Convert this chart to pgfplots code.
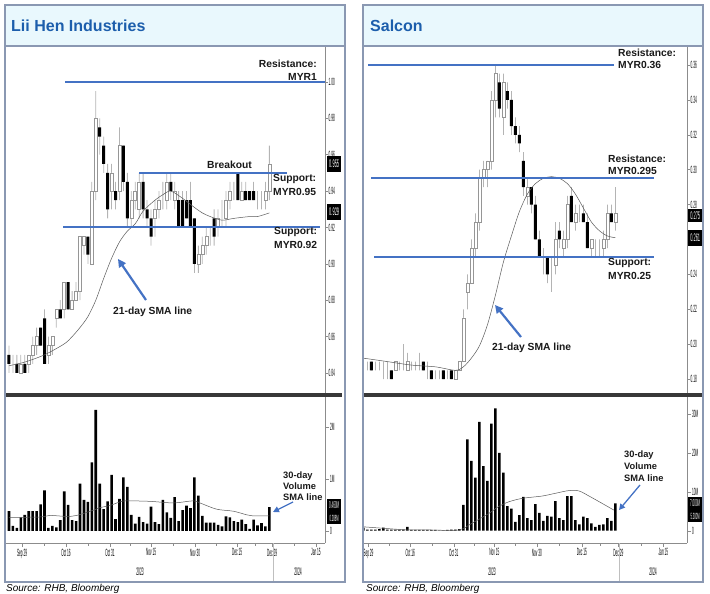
\documentclass[border=0pt]{standalone}
\usepackage{graphicx}
\usepackage{pgfplots}
\pgfplotsset{compat=1.18}
\usepackage{pgfplotstable}
\usepackage{fontspec}
\setmainfont{Liberation Sans}
\usetikzlibrary{arrows.meta}
\definecolor{lineblue}{RGB}{68,114,196}
\definecolor{titleblue}{RGB}{28,94,172}
\definecolor{barfill}{RGB}{233,248,253}
\definecolor{framec}{RGB}{138,152,178}
\definecolor{wickc}{RGB}{180,180,180}
\definecolor{upedge}{RGB}{150,150,150}
\newcommand{\sq}[2][10.5]{\scalebox{0.3}[1]{\fontsize{#1}{#1}\selectfont #2}}

\pgfplotstableread{
i o h l c
1 0.850 0.855 0.840 0.845
2 0.845 0.850 0.840 0.845
3 0.845 0.850 0.840 0.840
4 0.840 0.850 0.840 0.845
5 0.845 0.850 0.840 0.840
6 0.845 0.850 0.840 0.850
7 0.850 0.860 0.845 0.855
8 0.855 0.865 0.850 0.860
9 0.865 0.865 0.855 0.855
10 0.870 0.875 0.845 0.845
11 0.850 0.860 0.845 0.855
12 0.855 0.860 0.850 0.860
13 0.870 0.875 0.865 0.875
14 0.875 0.880 0.870 0.870
15 0.875 0.890 0.870 0.890
16 0.890 0.890 0.875 0.875
17 0.875 0.885 0.875 0.880
18 0.880 0.890 0.880 0.885
19 0.885 0.915 0.880 0.915
20 0.910 0.915 0.905 0.915
21 0.915 0.915 0.900 0.905
22 0.900 0.945 0.900 0.940
23 0.940 0.995 0.935 0.980
24 0.975 0.980 0.960 0.970
25 0.965 0.970 0.950 0.955
26 0.950 0.955 0.925 0.930
27 0.940 0.955 0.930 0.950
28 0.940 0.945 0.930 0.935
29 0.940 0.975 0.935 0.965
30 0.965 0.965 0.940 0.945
31 0.945 0.950 0.920 0.925
32 0.925 0.940 0.920 0.935
33 0.935 0.945 0.930 0.940
34 0.930 0.950 0.925 0.945
35 0.945 0.950 0.925 0.930
36 0.930 0.935 0.920 0.925
37 0.925 0.930 0.910 0.915
38 0.925 0.935 0.915 0.930
39 0.930 0.940 0.925 0.935
40 0.935 0.945 0.930 0.935
41 0.935 0.950 0.930 0.945
42 0.945 0.950 0.935 0.940
43 0.935 0.945 0.930 0.940
44 0.935 0.940 0.920 0.920
45 0.935 0.940 0.920 0.920
46 0.935 0.940 0.925 0.925
47 0.935 0.945 0.920 0.920
48 0.925 0.925 0.895 0.900
49 0.900 0.910 0.895 0.905
50 0.905 0.915 0.900 0.910
51 0.910 0.920 0.905 0.915
52 0.915 0.920 0.910 0.915
53 0.925 0.930 0.910 0.915
54 0.920 0.930 0.915 0.925
55 0.925 0.935 0.920 0.925
56 0.925 0.940 0.920 0.935
57 0.935 0.945 0.930 0.940
58 0.940 0.945 0.935 0.940
59 0.950 0.950 0.935 0.935
60 0.935 0.945 0.935 0.940
61 0.940 0.945 0.935 0.935
62 0.940 0.940 0.935 0.935
63 0.940 0.945 0.935 0.935
64 0.935 0.940 0.930 0.935
65 0.935 0.940 0.930 0.935
66 0.935 0.945 0.930 0.940
67 0.940 0.965 0.935 0.955
}\liihen

\pgfplotstableread{
i v
1 0.38
2 0.10
3 0.06
4 0.26
5 0.31
6 0.38
7 0.38
8 0.38
9 0.51
10 0.78
11 0.06
12 0.10
13 0.07
14 0.21
15 0.76
16 0.50
17 0.21
18 0.19
19 0.91
20 0.60
21 0.56
22 1.32
23 2.33
24 0.91
25 0.42
26 0.57
27 1.08
28 0.23
29 0.62
30 1.03
31 0.85
32 0.31
33 0.14
34 0.27
35 0.17
36 0.14
37 0.47
38 0.17
39 0.13
40 0.60
41 0.36
42 0.25
43 0.65
44 0.19
45 0.40
46 0.49
47 0.44
48 1.03
49 0.68
50 0.29
51 0.16
52 0.16
53 0.16
54 0.12
55 0.09
56 0.28
57 0.26
58 0.19
59 0.17
60 0.22
61 0.13
62 0.04
63 0.22
64 0.11
65 0.15
66 0.09
67 0.46
}\lhvol

\pgfplotstableread{
i o h l c
4 0.190 0.195 0.185 0.190
5 0.190 0.190 0.185 0.190
6 0.190 0.190 0.185 0.185
7 0.185 0.190 0.185 0.185
8 0.185 0.190 0.185 0.185
9 0.185 0.190 0.180 0.185
10 0.185 0.190 0.180 0.185
11 0.185 0.185 0.180 0.180
12 0.185 0.190 0.185 0.190
13 0.190 0.190 0.185 0.190
14 0.190 0.200 0.185 0.190
15 0.185 0.195 0.185 0.190
16 0.190 0.190 0.185 0.190
17 0.190 0.190 0.185 0.190
18 0.190 0.195 0.185 0.190
19 0.190 0.190 0.185 0.185
20 0.185 0.190 0.180 0.185
21 0.185 0.185 0.180 0.180
22 0.185 0.185 0.180 0.185
23 0.185 0.185 0.180 0.185
24 0.185 0.185 0.180 0.180
25 0.185 0.185 0.180 0.185
26 0.185 0.185 0.180 0.180
27 0.180 0.185 0.180 0.185
28 0.185 0.190 0.185 0.190
29 0.190 0.220 0.190 0.215
30 0.230 0.240 0.220 0.235
31 0.235 0.260 0.235 0.255
32 0.255 0.275 0.250 0.270
33 0.270 0.300 0.265 0.295
34 0.295 0.305 0.290 0.300
35 0.300 0.305 0.290 0.305
36 0.305 0.345 0.300 0.340
37 0.340 0.360 0.330 0.355
38 0.350 0.355 0.330 0.335
39 0.330 0.355 0.320 0.350
40 0.345 0.350 0.335 0.340
41 0.340 0.345 0.320 0.325
42 0.325 0.330 0.315 0.320
43 0.320 0.325 0.310 0.315
44 0.305 0.310 0.285 0.290
45 0.285 0.295 0.280 0.290
46 0.290 0.290 0.275 0.280
47 0.280 0.285 0.260 0.260
48 0.260 0.265 0.250 0.250
49 0.250 0.255 0.240 0.250
50 0.250 0.250 0.235 0.240
51 0.240 0.250 0.230 0.240
52 0.245 0.270 0.240 0.260
53 0.265 0.270 0.255 0.260
54 0.255 0.265 0.250 0.260
55 0.260 0.285 0.255 0.280
56 0.285 0.290 0.270 0.270
57 0.270 0.280 0.265 0.275
58 0.275 0.280 0.270 0.275
59 0.275 0.280 0.270 0.270
60 0.270 0.275 0.255 0.255
61 0.255 0.260 0.250 0.260
62 0.255 0.260 0.250 0.255
63 0.255 0.260 0.250 0.255
64 0.255 0.265 0.250 0.260
65 0.260 0.280 0.255 0.275
66 0.275 0.280 0.270 0.270
67 0.270 0.290 0.265 0.275
}\salcon

\pgfplotstableread{
i v
4 0.8
5 0.3
6 0.3
7 0.3
8 0.4
9 0.8
10 0.3
11 0.3
12 0.3
13 0.3
14 0.3
15 1.0
16 0.2
17 0.2
18 0.2
19 0.2
20 0.2
21 0.2
22 0.2
23 0.1
24 0.1
25 0.2
26 0.3
27 0.3
28 0.4
29 6.6
30 23.4
31 17.9
32 13.6
33 27.9
34 16.6
35 12.8
36 27.5
37 31.4
38 20.0
39 14.9
40 6.3
41 5.7
42 2.3
43 4.0
44 8.7
45 3.2
46 2.7
47 6.8
48 4.6
49 2.5
50 3.8
51 3.6
52 7.6
53 3.2
54 2.7
55 8.9
56 8.9
57 2.7
58 1.6
59 3.6
60 3.2
61 1.9
62 1.0
63 1.5
64 1.6
65 3.2
66 2.5
67 7.0
}\savol

\pgfplotsset{
  lhgeo/.style={scale only axis, width=319pt, xmin=0.24, xmax=81.1},
  sageo/.style={scale only axis, width=324pt, xmin=3.9, xmax=84.9},
  lhp/.style={lhgeo, at={(6pt,-393pt)}, anchor=south west, height=346pt, ymin=0.829, ymax=1.0192},
  sap/.style={sageo, at={(363pt,-393pt)}, anchor=south west, height=346pt, ymin=0.172, ymax=0.3703},
  wickax/.style={hide axis, ybar stacked, bar width=0.8pt},
  bodyax/.style={hide axis, ybar stacked, bar width=3pt},
  rightax/.style={axis x line=none, axis y line*=right,
    axis line style={draw=black!45, line width=0.4pt},
    tick style={draw=black!45, line width=0.4pt}, tick align=outside,
    major tick length=2.5pt, yticklabel style={inner sep=1pt}},
  volax/.style={axis x line*=bottom, axis y line*=right,
    axis line style={draw=black!45, line width=0.4pt},
    tick style={draw=black!45, line width=0.4pt}, tick align=outside,
    major tick length=4pt, minor tick length=2.5pt,
    yticklabel style={inner sep=1pt}, xticklabel style={inner sep=1.5pt},
    height=146pt},
  sma/.style={draw=black!65, line width=0.5pt, smooth, mark=none},
  lvl/.style={draw=lineblue, line width=2pt, mark=none},
}

\begin{document}
\begin{tikzpicture}
\path[use as bounding box] (0,0) rectangle (710pt,-594pt);
% title bars
\fill[barfill] (5pt,-5pt) rectangle (345pt,-46pt);
\fill[barfill] (363pt,-5pt) rectangle (703pt,-46pt);

%================ LII HEN =================
\begin{axis}[lhp, wickax]
\addplot[draw=none, fill=none] table[x=i, y=l] {\liihen};
\addplot[fill=wickc, draw=none] table[x=i, y expr={\thisrow{h}-\thisrow{l}}] {\liihen};
\end{axis}
\begin{axis}[lhp, bodyax]
\addplot[draw=none, fill=none] table[x=i, y expr={min(\thisrow{o},\thisrow{c})}] {\liihen};
\addplot[fill=black, draw=none] table[x=i, y expr={max(\thisrow{o}-\thisrow{c},0)}] {\liihen};
\addplot[fill=white, draw=upedge, line width=0.5pt] table[x=i, y expr={max(\thisrow{c}-\thisrow{o},0)}] {\liihen};
\end{axis}
\begin{axis}[lhp, rightax,
  ytick={0.84,0.86,0.88,0.90,0.92,0.94,0.96,0.98,1.00},
  yticklabels={\sq{0.84},\sq{0.86},\sq{0.88},\sq{0.90},\sq{0.92},\sq{0.94},\sq{0.96},\sq{0.98},\sq{1.00}}]
\addplot[sma] coordinates {(1,0.844)(5,0.846)(10,0.850)(15,0.856)(17,0.860)(19,0.865)(21,0.871)(23,0.880)(25,0.892)(27,0.903)(29,0.912)(31,0.918)(33,0.922)(35,0.929)(38,0.935)(40,0.938)(42,0.940)(45,0.936)(48,0.931)(50,0.928)(52,0.926)(55,0.924)(58,0.925)(62,0.926)(64,0.926)(67,0.928)};
\addplot[lvl] coordinates {(15.2,1.00)(81.1,1.00)};
\addplot[lvl] coordinates {(34.0,0.95)(71.5,0.95)};
\addplot[lvl] coordinates {(14.7,0.92)(79.9,0.92)};
\end{axis}
\begin{axis}[lhgeo, volax, at={(6pt,-543pt)}, anchor=south west,
  ymin=-0.231, ymax=2.577, ytick={0,1,2}, yticklabels={\sq{0},\sq{1M},\sq{2M}},
  xtick={4.3,15.45,26.6,37.0,48.2,58.8,67.7,78.8},
  minor xtick={9.9,21,31.8,42.6,53.5,63.3,73.2},
  xticklabels={\sq{Sep 29},\sq{Oct 16},\sq{Oct 31},\sq{Nov 15},\sq{Nov 30},\sq{Dec 15},\sq{Dec 29},\sq{Jan 15}}]
\addplot[ybar, bar width=2.6pt, fill=black, draw=none] table[x=i, y=v] {\lhvol};
\addplot[sma] coordinates {(1,0.26)(9,0.27)(11.4,0.30)(15.6,0.28)(18.2,0.30)(22.4,0.40)(24.1,0.45)(26.6,0.49)(29.1,0.56)(30.8,0.58)(36.8,0.57)(42.7,0.54)(47.7,0.58)(49.4,0.54)(53.6,0.42)(57.9,0.38)(61.3,0.31)(62.9,0.29)(67,0.29)};
\end{axis}

%================ SALCON =================
\begin{axis}[sap, wickax]
\addplot[draw=none, fill=none] table[x=i, y=l] {\salcon};
\addplot[fill=wickc, draw=none] table[x=i, y expr={\thisrow{h}-\thisrow{l}}] {\salcon};
\end{axis}
\begin{axis}[sap, bodyax]
\addplot[draw=none, fill=none] table[x=i, y expr={min(\thisrow{o},\thisrow{c})}] {\salcon};
\addplot[fill=black, draw=none] table[x=i, y expr={max(\thisrow{o}-\thisrow{c},0)}] {\salcon};
\addplot[fill=white, draw=upedge, line width=0.5pt] table[x=i, y expr={max(\thisrow{c}-\thisrow{o},0)}] {\salcon};
\end{axis}
\begin{axis}[sap, rightax,
  ytick={0.18,0.20,0.22,0.24,0.28,0.30,0.32,0.34,0.36},
  yticklabels={\sq{0.18},\sq{0.20},\sq{0.22},\sq{0.24},\sq{0.28},\sq{0.30},\sq{0.32},\sq{0.34},\sq{0.36}},
  extra y ticks={0.26}, extra y tick labels={}]
\addplot[sma] coordinates {(3.9,0.192)(10,0.190)(16,0.188)(22,0.187)(27,0.185)(29,0.187)(31,0.192)(33,0.199)(35,0.211)(37,0.228)(39,0.247)(41,0.262)(43,0.276)(45,0.286)(47,0.292)(49,0.295)(51,0.296)(53,0.295)(55,0.292)(57,0.286)(59,0.278)(61,0.270)(63,0.265)(65,0.262)(67,0.261)};
\addplot[lvl] coordinates {(5.2,0.36)(66.7,0.36)};
\addplot[lvl] coordinates {(5.9,0.295)(76.7,0.295)};
\addplot[lvl] coordinates {(6.7,0.25)(76.7,0.25)};
\end{axis}
\begin{axis}[sageo, volax, at={(363pt,-543pt)}, anchor=south west,
  ymin=-3.15, ymax=34.3, ytick={0,10,20,30}, yticklabels={\sq{0},\sq{10M},\sq{20M},\sq{30M}},
  xtick={5.25,15.7,26.6,36.75,47.35,58.6,67.75,79},
  minor xtick={10.5,21.2,31.7,42,53,63.2,73.4},
  xticklabels={\sq{Sep 29},\sq{Oct 16},\sq{Oct 31},\sq{Nov 15},\sq{Nov 30},\sq{Dec 15},\sq{Dec 29},\sq{Jan 15}}]
\addplot[ybar, bar width=2.6pt, fill=black, draw=none] table[x=i, y=v] {\savol};
\addplot[sma] coordinates {(4,1.0)(8,0.7)(14.4,0.25)(20,0.2)(27.8,0.2)(31.1,1.9)(35.3,4.4)(37.8,6.2)(40.3,7.4)(43.7,8.3)(48.7,8.9)(52,9.6)(55.4,10.3)(57.9,10.2)(60.4,8.9)(63.7,7.0)(66.6,5.3)};
\end{axis}

%================ annotations =================
\begin{scope}[x=1pt,y=-1pt]
% separators
\fill[black!78] (6,393) rectangle (342,397.3);
\fill[black!78] (363,393) rectangle (702,397.3);
\draw[black!25, line width=0.6pt] (273,543) -- (273,581);
\draw[black!25, line width=0.6pt] (619,543) -- (619,581);
\node at (140,572) {\sq[11]{2023}};
\node at (298,572) {\sq[11]{2024}};
\node at (492,572) {\sq[11]{2023}};
\node at (653,572) {\sq[11]{2024}};
% titles
\node[anchor=west, inner sep=0, text=titleblue, font=\fontsize{16}{18}\selectfont\bfseries] at (11,26) {Lii Hen Industries};
\node[anchor=west, inner sep=0, text=titleblue, font=\fontsize{16}{18}\selectfont\bfseries] at (370,26) {Salcon};
% value boxes
\begin{scope}[every node/.style={fill=black, text=white, inner sep=1pt, minimum height=16pt, minimum width=14pt, anchor=west}]
\node at (327,164) {\scalebox{0.36}[1]{\fontsize{11}{11}\selectfont 0.955}};
\node at (327,212) {\scalebox{0.36}[1]{\fontsize{11}{11}\selectfont 0.929}};
\node[minimum height=13pt] at (327,505) {\scalebox{0.3}[1]{\fontsize{10}{10}\selectfont 0.460M}};
\node[minimum height=12pt] at (327,518) {\scalebox{0.3}[1]{\fontsize{9}{9}\selectfont 0.288M}};
\node[minimum height=13pt] at (688,215.5) {\scalebox{0.36}[1]{\fontsize{11}{11}\selectfont 0.275}};
\node at (688,238) {\scalebox{0.36}[1]{\fontsize{11}{11}\selectfont 0.261}};
\node[minimum height=13pt] at (688,503) {\scalebox{0.3}[1]{\fontsize{10}{10}\selectfont 7.000M}};
\node[minimum height=12pt] at (688,516) {\scalebox{0.3}[1]{\fontsize{9}{9}\selectfont 5.300M}};
\end{scope}
% Lii Hen labels
\begin{scope}[every node/.style={inner sep=0, text=black!90}, font=\fontsize{10.3}{12}\selectfont\bfseries]
\node[anchor=base east] at (317,68) {Resistance:};
\node[anchor=base east] at (317,81) {MYR1};
\node[anchor=base west] at (207,168) {Breakout};
\node[anchor=base west] at (273,181) {Support:};
\node[anchor=base west] at (273,195) {MYR0.95};
\node[anchor=base west] at (274,234.5) {Support:};
\node[anchor=base west] at (274,248) {MYR0.92};
\node[anchor=base west] at (113,314.5) {21-day SMA line};
% Salcon labels
\node[anchor=base west] at (618,57) {Resistance:};
\node[anchor=base west] at (618,69) {MYR0.36};
\node[anchor=base west] at (608,162) {Resistance:};
\node[anchor=base west] at (608,174) {MYR0.295};
\node[anchor=base west] at (608,265) {Support:};
\node[anchor=base west] at (608,279) {MYR0.25};
\node[anchor=base west] at (492,350.5) {21-day SMA line};
\end{scope}
\begin{scope}[every node/.style={inner sep=0, text=black!90, anchor=base west}, font=\fontsize{9.3}{11}\selectfont\bfseries]
\node at (283,478) {30-day};
\node at (283,489) {Volume};
\node at (283,500) {SMA line};
\node at (624,457) {30-day};
\node at (624,469) {Volume};
\node at (624,481) {SMA line};
\end{scope}
% arrows
\draw[lineblue, line width=2.2pt, -{Triangle[length=8pt,width=8pt]}] (146,300) -- (118,259);
\draw[lineblue, line width=2.2pt, -{Triangle[length=8pt,width=8pt]}] (521,337) -- (495,305);
\draw[lineblue, line width=1.3pt, -{Triangle[length=6pt,width=6pt]}] (293,502) -- (273,512);
\draw[lineblue, line width=1.3pt, -{Triangle[length=6pt,width=6pt]}] (640,485) -- (619,510);
% source
\node[anchor=base west, inner sep=0, font=\fontsize{10}{12}\selectfont\itshape] at (6,591) {Source: RHB, Bloomberg};
\node[anchor=base west, inner sep=0, font=\fontsize{10}{12}\selectfont\itshape] at (366,591) {Source: RHB, Bloomberg};
% frames
\draw[framec, line width=1.3pt] (5,5) rectangle (345,582);
\draw[framec, line width=1.3pt] (5,46) -- (345,46);
\draw[framec, line width=1.3pt] (363,5) rectangle (703,582);
\draw[framec, line width=1.3pt] (363,46) -- (703,46);
\end{scope}
\end{tikzpicture}
\end{document}
